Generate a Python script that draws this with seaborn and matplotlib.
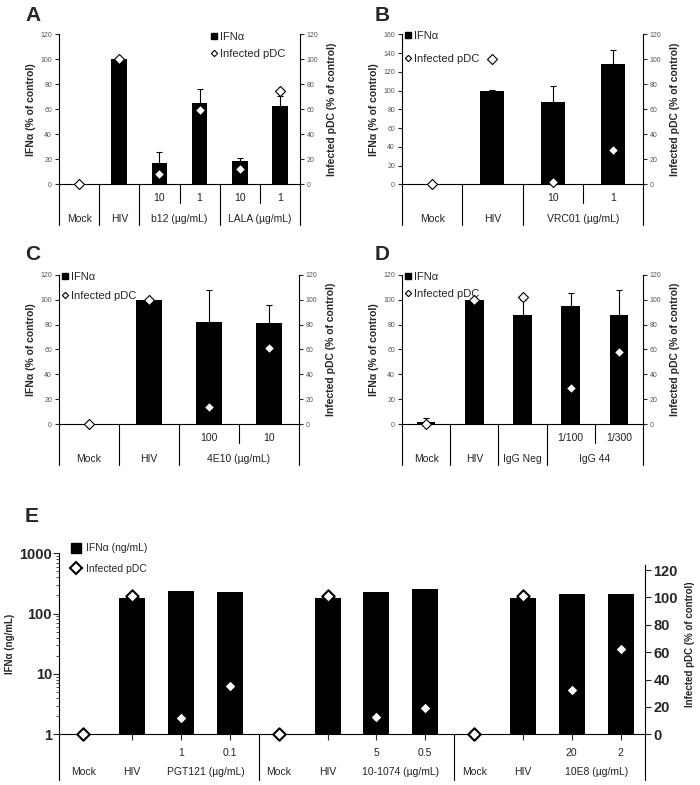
import numpy as np
import pandas as pd
import matplotlib
matplotlib.use("Agg")
import matplotlib.pyplot as plt
import matplotlib.transforms as mtransforms
from matplotlib.lines import Line2D
from matplotlib.ticker import FixedLocator, LogLocator, NullFormatter
import seaborn as sns

# ---------------- data ----------------
# Panel A
a_sub = ["", "", "10", "1", "10", "1"]
a_groups = ["Mock", "HIV", "b12 (µg/mL)", "LALA (µg/mL)"]
a_spans = [(0, 0), (1, 1), (2, 3), (4, 5)]
a_ifn = [0, 100, 17, 65, 18.5, 63]
a_err = [0, 0, 9, 11, 2.5, 7.5]
a_pdc = [0, 100, 8, 59.5, 12.5, 74.5]

# Panel B
b_sub = ["", "", "10", "1"]
b_groups = ["Mock", "HIV", "VRC01 (µg/mL)"]
b_spans = [(0, 0), (1, 1), (2, 3)]
b_ifn = [0, 100, 87.5, 128]
b_err = [0, 0.6, 17.5, 15]
b_pdc = [0, 100, 1.5, 27.5]

# Panel C
c_sub = ["", "", "100", "10"]
c_groups = ["Mock", "HIV", "4E10 (µg/mL)"]
c_spans = [(0, 0), (1, 1), (2, 3)]
c_ifn = [0, 100, 82, 81]
c_err = [0, 0, 25.5, 14.5]
c_pdc = [0, 100, 13.5, 61.5]

# Panel D
d_sub = ["", "", "", "1/100", "1/300"]
d_groups = ["Mock", "HIV", "IgG Neg", "IgG 44"]
d_spans = [(0, 0), (1, 1), (2, 2), (3, 4)]
d_ifn = [1.8, 100, 87.5, 94.5, 88]
d_err = [3, 0, 12, 10.5, 19.5]
d_pdc = [0, 100, 102.5, 29, 58]

# Panel E
e_sub = ["", "", "1", "0.1", "", "", "5", "0.5", "", "", "20", "2"]
e_groups = ["Mock", "HIV", "PGT121 (µg/mL)", "Mock", "HIV", "10-1074 (µg/mL)",
            "Mock", "HIV", "10E8 (µg/mL)"]
e_spans = [(0, 0), (1, 1), (2, 3), (4, 4), (5, 5), (6, 7), (8, 8), (9, 9), (10, 11)]
e_ifn = [0, 182, 235, 228, 0, 182, 229, 260, 0, 182, 215, 215]
e_pdc = [0, 101, 12, 35.5, 0, 101, 13, 19.5, 0, 101, 32.5, 62]

# ---------------- style ----------------
sns.set_theme(style="ticks")
plt.rcParams["font.family"] = ["Liberation Sans", "DejaVu Sans"]
plt.rcParams["axes.linewidth"] = 0.8
plt.rcParams["axes.edgecolor"] = "black"

W, H = 700, 785
fig = plt.figure(figsize=(W / 100, H / 100), dpi=100)
fig.patch.set_facecolor("white")

GRAY = "#555555"
CAT = "#222222"


def frac(left, top_val_px, right, zero_px):
    return [left / W, 1 - zero_px / H, (right - left) / W, (zero_px - top_val_px) / H]


def excel_panel(rect, sub, groups, spans, ifn, err, pdc, lmax, bw,
                leg_anchor, leg_spacing):
    n = len(ifn)
    ax = fig.add_axes(rect)
    hpx = rect[3] * H
    df = pd.DataFrame({"key": [str(i) for i in range(n)], "ifn": ifn})
    sns.barplot(data=df, x="key", y="ifn", color="black", saturation=1,
                width=bw, errorbar=None, ax=ax, linewidth=0)
    x = np.arange(n)
    err = np.asarray(err, dtype=float)
    m = err > 0
    ax.errorbar(x[m], np.asarray(ifn)[m], yerr=[np.zeros(m.sum()), err[m]],
                fmt="none", ecolor="black", elinewidth=0.8, capsize=2.5,
                capthick=0.8, zorder=3)
    ax.set_xlim(-0.5, n - 0.5)
    ax.set_ylim(0, lmax)
    ax.set_yticks(np.arange(0, lmax + 1, 20))
    ax.set_xticks([])
    ax.set_xlabel("")
    ax.set_ylabel("IFNα (% of control)", fontsize=7.5, fontweight="bold",
                  labelpad=3)
    ax.tick_params(axis="y", left=True, direction="out", length=3, width=0.8,
                   labelsize=5, labelcolor=GRAY, pad=2)
    for s in ["top", "right"]:
        ax.spines[s].set_visible(False)

    ax2 = ax.twinx()
    sns.scatterplot(x=x, y=pdc, marker="D", s=26, color="white",
                    edgecolor="black", linewidth=0.8, ax=ax2, legend=False,
                    zorder=5)
    for c in ax2.collections:
        c.set_clip_on(False)
    ax2.set_xlim(-0.5, n - 0.5)
    ax2.set_ylim(0, 120)
    ax2.set_yticks(np.arange(0, 121, 20))
    ax2.set_ylabel("Infected pDC (% of control)", fontsize=7.5,
                   fontweight="bold", labelpad=6)
    ax2.tick_params(axis="y", right=True, direction="out", length=3, width=0.8,
                    labelsize=5, labelcolor=GRAY, pad=2)
    for s in ["top", "left", "bottom"]:
        ax2.spines[s].set_visible(False)

    # category table below the axis
    tr = mtransforms.blended_transform_factory(ax.transData, ax.transAxes)
    full = -41 / hpx
    short = -19 / hpx
    lines = [(-0.5, full), (n - 0.5, full)]
    for gi, (i0, i1) in enumerate(spans):
        if gi > 0:
            lines.append((i0 - 0.5, full))
        for k in range(i0 + 1, i1 + 1):
            lines.append((k - 0.5, short))
    for xv, d in lines:
        ax.add_line(Line2D([xv, xv], [0, d], transform=tr, color="black",
                           lw=0.8, clip_on=False))
    for i, t in enumerate(sub):
        if t:
            ax.text(i, -14 / hpx, t, transform=tr, ha="center", va="center",
                    fontsize=7.5, color=CAT)
    for g, (i0, i1) in zip(groups, spans):
        ax.text((i0 + i1) / 2, -35 / hpx, g, transform=tr, ha="center",
                va="center", fontsize=7.5, color=CAT)

    handles = [Line2D([], [], marker="s", color="black", linestyle="none",
                      markersize=4.2),
               Line2D([], [], marker="D", markerfacecolor="white",
                      markeredgecolor="black", markeredgewidth=0.8,
                      linestyle="none", markersize=3.2)]
    ax2.legend(handles, ["IFNα", "Infected pDC"], loc="upper left",
               bbox_to_anchor=leg_anchor, frameon=False, fontsize=8,
               handlelength=0.6, handletextpad=0.25, borderpad=0,
               borderaxespad=0, labelspacing=leg_spacing)
    return ax, ax2


excel_panel(frac(59, 34.3, 300, 184.3), a_sub, a_groups, a_spans, a_ifn,
            a_err, a_pdc, 120, 0.39, (0.63, 1.015), 0.65)
excel_panel(frac(402, 34.3, 643, 184.3), b_sub, b_groups, b_spans, b_ifn,
            b_err, b_pdc, 160, 0.4, (0.01, 1.025), 1.2)
excel_panel(frac(59, 274.7, 299, 424.3), c_sub, c_groups, c_spans, c_ifn,
            c_err, c_pdc, 120, 0.42, (0.01, 1.02), 0.85)
excel_panel(frac(402, 274.7, 643, 424.3), d_sub, d_groups, d_spans, d_ifn,
            d_err, d_pdc, 120, 0.39, (0.01, 1.02), 0.65)

# ---------------- Panel E ----------------
rect = frac(59, 553.3, 645, 734.3)
axe = fig.add_axes(rect)
hpx = rect[3] * H
n = len(e_ifn)
dfe = pd.DataFrame({"key": [str(i) for i in range(n)], "ifn": e_ifn})
sns.barplot(data=dfe, x="key", y="ifn", color="black", saturation=1,
            width=0.53, errorbar=None, ax=axe, linewidth=0)
axe.set_yscale("log")
axe.set_ylim(1, 1000)
axe.set_xlim(-0.5, n - 0.5)
axe.set_xticks(np.arange(n))
axe.set_xticklabels([""] * n)
axe.set_xlabel("")
axe.yaxis.set_major_locator(FixedLocator([1, 10, 100, 1000]))
axe.set_yticklabels(["1", "10", "100", "1000"])
axe.yaxis.set_minor_locator(LogLocator(base=10, subs=np.arange(2, 10)))
axe.yaxis.set_minor_formatter(NullFormatter())
axe.tick_params(axis="y", which="major", left=True, direction="out",
                length=4, width=0.8, labelsize=10.5, pad=1)
for lab in axe.get_yticklabels():
    lab.set_fontweight("bold")
axe.tick_params(axis="y", which="minor", left=True, direction="out",
                length=2, width=0.6)
axe.tick_params(axis="x", bottom=True, direction="out", length=4, width=0.8)
axe.set_ylabel("IFNα (ng/mL)", fontsize=7, fontweight="bold", labelpad=3)
for s in ["top", "right"]:
    axe.spines[s].set_visible(False)

axe2 = axe.twinx()
xe = np.arange(n)
sns.scatterplot(x=xe, y=e_pdc, marker="D", s=40, color="white",
                edgecolor="black", linewidth=1.5, ax=axe2, legend=False,
                zorder=5)
for c in axe2.collections:
    c.set_clip_on(False)
axe2.set_xlim(-0.5, n - 0.5)
axe2.set_ylim(0, 120 * 181 / 164.3)
axe2.set_yticks(np.arange(0, 121, 20))
axe2.spines["right"].set_bounds(0, 124)
axe2.tick_params(axis="y", right=True, direction="out", length=4, width=0.8,
                 labelsize=10.5, pad=2)
for lab in axe2.get_yticklabels():
    lab.set_fontweight("bold")
axe2.set_ylabel("Infected pDC (% of control)", fontsize=7, fontweight="bold",
                labelpad=5)
for s in ["top", "left", "bottom"]:
    axe2.spines[s].set_visible(False)

tr = mtransforms.blended_transform_factory(axe.transData, axe.transAxes)
full = -46 / hpx
for xv in [-0.5, 3.59, 7.59, n - 0.5]:
    axe.add_line(Line2D([xv, xv], [0, full], transform=tr, color="black",
                        lw=0.8, clip_on=False))
for i, t in enumerate(e_sub):
    if t:
        axe.text(i, -19 / hpx, t, transform=tr, ha="center", va="center",
                 fontsize=7.5, color=CAT)
for g, (i0, i1) in zip(e_groups, e_spans):
    axe.text((i0 + i1) / 2, -38 / hpx, g, transform=tr, ha="center",
             va="center", fontsize=7.5, color=CAT)

handles = [Line2D([], [], marker="s", color="black", linestyle="none",
                  markersize=7),
           Line2D([], [], marker="D", markerfacecolor="white",
                  markeredgecolor="black", markeredgewidth=1.5,
                  linestyle="none", markersize=6)]
axe2.legend(handles, ["IFNα (ng/mL)", "Infected pDC"], loc="upper left",
            bbox_to_anchor=(0.02, 1.055), frameon=False, fontsize=7.5,
            handlelength=1.0, handletextpad=0.5, borderpad=0,
            borderaxespad=0, labelspacing=1.0)

# panel letters
for letter, (px, py) in zip("ABCDE", [(25, 6), (375, 6), (25, 245),
                                      (375, 245), (25, 507)]):
    fig.text(px / W, 1 - py / H, letter, fontsize=15, fontweight="bold",
             va="top", ha="left")

fig.savefig("out.png", dpi=100, facecolor="white")
